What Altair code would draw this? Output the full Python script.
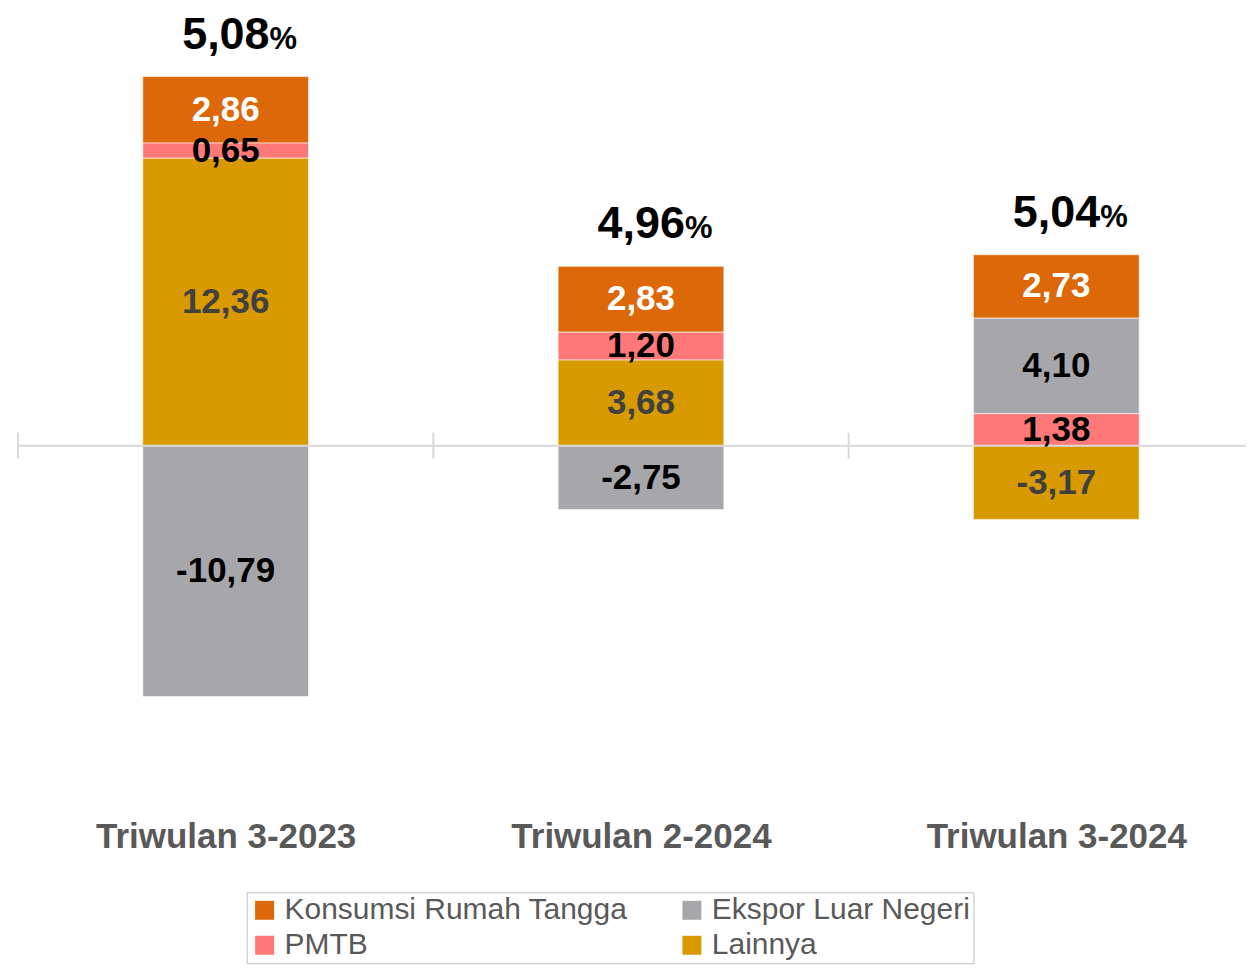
import json
import altair as alt
import pandas as pd

categories = ["Triwulan 3-2023", "Triwulan 2-2024", "Triwulan 3-2024"]
series = ["Konsumsi Rumah Tangga", "PMTB", "Ekspor Luar Negeri", "Lainnya"]
konsumsi = [2.86, 2.83, 2.73]
pmtb = [0.65, 1.20, 1.38]
ekspor = [-10.79, -2.75, 4.10]
lainnya = [12.36, 3.68, -3.17]
# stacking order from zero outward (1 = closest to zero)
stack_rank = {"Lainnya": 1, "PMTB": 2, "Ekspor Luar Negeri": 3, "Konsumsi Rumah Tangga": 4}

bar_colors = ["#DC680A", "#FF7878", "#A7A6AB", "#D99A00"]
label_colors = ["#FFFFFF", "#000000", "#000000", "#404040"]

rows = []
for s, vals in zip(series, [konsumsi, pmtb, ekspor, lainnya]):
    for i, (c, v) in enumerate(zip(categories, vals)):
        rows.append({"idx": i, "cat": c, "series": s, "value": v, "rank": stack_rank[s]})
df = pd.DataFrame(rows)

FONT = "Liberation Sans, Arial, sans-serif"
W, H = 1230, 792
STEP = 416  # pixels per category slot
xscale = alt.Scale(domain=[-0.5, -0.5 + W / STEP], nice=False, zero=False, padding=0)
yscale = alt.Scale(domain=[-15.3, 18.7], nice=False, zero=False)

xaxis = alt.Axis(title=None, values=list(range(len(categories))),
                 labelExpr=json.dumps(categories) + "[datum.value]",
                 labelAngle=0, labelFont=FONT, labelFontSize=35,
                 labelFontWeight="bold", labelColor="#595959", labelPadding=18,
                 domain=False, ticks=False, grid=False, labelLimit=400)
xenc = alt.X("idx:Q", scale=xscale, axis=xaxis)

fmt = "(datum.{f}<0?'-':'') + replace(format(abs(datum.{f}), '.2f'), '.', ',')"

bars = alt.Chart(df).mark_bar(width=166, orient="vertical", stroke="#FFFFFF", strokeWidth=0.6).encode(
    x=xenc,
    y=alt.Y("value:Q", stack="zero", scale=yscale, axis=None),
    color=alt.Color("series:N", scale=alt.Scale(domain=series, range=bar_colors),
                    legend=alt.Legend(title=None, orient="none", legendX=229, legendY=883,
                                      columns=2, symbolType="square", symbolSize=361,
                                      symbolStrokeWidth=0, labelFont=FONT, labelFontSize=30,
                                      labelColor="#595959", labelLimit=600,
                                      strokeColor="#BFBFBF", padding=3, rowPadding=5,
                                      columnPadding=49, labelOffset=5)),
    order=alt.Order("rank:Q", sort="ascending"),
)

seg = alt.Chart(df).transform_stack(
    stack="value", groupby=["idx"], as_=["y0", "y1"],
    sort=[alt.SortField("rank", order="ascending")], offset="zero"
).transform_calculate(
    ymid="(datum.y0 + datum.y1) / 2",
    label=fmt.format(f="value"),
).mark_text(font=FONT, fontSize=35, fontWeight="bold", baseline="middle").encode(
    x=xenc,
    y=alt.Y("ymid:Q", scale=yscale, axis=None),
    text="label:N",
    color=alt.Color("series:N", scale=alt.Scale(domain=series, range=label_colors), legend=None),
)

tot = alt.Chart(df).transform_calculate(pos="max(datum.value, 0)").transform_aggregate(
    total="sum(value)", top="sum(pos)", groupby=["idx"]
).transform_calculate(label=fmt.format(f="total"))

num = tot.mark_text(font=FONT, fontSize=45, fontWeight="bold", align="right",
                    baseline="alphabetic", dx=44, dy=-28, color="#000000").encode(
    x=xenc, y=alt.Y("top:Q", scale=yscale, axis=None), text="label:N")
pct = tot.mark_text(font=FONT, fontSize=31, fontWeight="bold", align="left",
                    baseline="alphabetic", dx=44, dy=-28, color="#000000", text="%").encode(
    x=xenc, y=alt.Y("top:Q", scale=yscale, axis=None))

zero = alt.Chart(pd.DataFrame({"z": [0]})).mark_rule(color="#D9D9D9", strokeWidth=2).encode(
    y=alt.Y("z:Q", scale=yscale, axis=None))

ticks = alt.Chart(pd.DataFrame({"idx": list(range(len(categories)))})).transform_calculate(
    edge="datum.idx - 0.5", t1="0.56", t2="-0.56"
).mark_rule(color="#D9D9D9", strokeWidth=2).encode(
    x=alt.X("edge:Q", scale=xscale, axis=xaxis),
    y=alt.Y("t1:Q", scale=yscale, axis=None), y2="t2:Q")

chart = alt.layer(bars, zero, ticks, seg, num, pct).resolve_scale(color="independent").properties(
    width=W, height=H, padding={"left": 9, "top": 2, "right": 0, "bottom": 0}
).configure_view(strokeWidth=0)

chart.save("out.html", embed_options={"renderer": "svg", "actions": False})
